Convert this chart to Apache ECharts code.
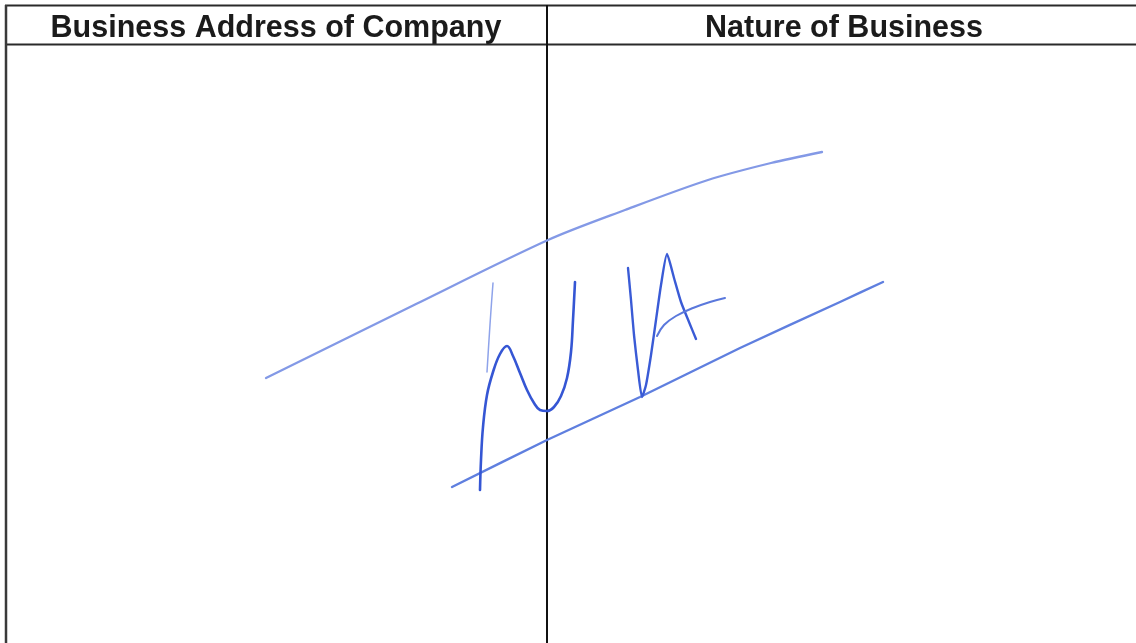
<!DOCTYPE html>
<html>
<head>
<meta charset="utf-8">
<script src="https://cdn.jsdelivr.net/npm/echarts@6/dist/echarts.min.js"></script>
<style>
html,body{margin:0;padding:0;background:#fff;overflow:hidden;}
#c{width:1136px;height:643px;}
</style>
</head>
<body>
<div id="c"></div>
<script>
// Table headers (column titles)
var headers = ['Business Address of Company', 'Nature of Business'];

// Table rules (x, y in page pixels)
var ruleTop = [[5, 5.5], [1136, 5.5]];
var ruleHeader = [[5, 44.5], [1136, 44.5]];
var ruleLeft = [[6, 5], [6, 643]];
var ruleMiddle = [[547, 5], [547, 643]];

// Handwritten strokes ("N/A" with two strike lines)
var strikeUpper = [[266, 378], [410, 307], [548, 240], [625, 210], [708, 180], [771, 163], [822, 152]];
var strikeLower = [[452, 487], [547, 440], [640, 397], [740, 348], [840, 302], [883, 282]];
var nFaint = [[493, 283], [491, 310], [489, 340], [487, 372]];
var nMain = [[480, 490], [481, 460], [483, 427], [487, 395], [493, 372], [500, 354], [507, 346], [513, 356], [520, 373], [527, 390], [534, 403], [540, 410], [547, 411], [554, 407], [561, 396], [567, 378], [571, 352], [573, 320], [575, 282]];
var aMain = [[628, 268], [631, 300], [634, 335], [638, 370], [642, 397], [646, 385], [651, 355], [656, 320], [661, 285], [667, 254], [674, 278], [681, 302], [689, 322], [696, 339]];
var aBar = [[657, 336], [664, 325], [676, 316], [693, 308], [710, 302], [725, 298]];

var chart = echarts.init(document.getElementById('c'), null, {renderer: 'canvas'});

function ruleEl(p, color, width) {
  return {
    type: 'line', silent: true, z: 2,
    shape: {x1: p[0][0], y1: p[0][1], x2: p[1][0], y2: p[1][1]},
    style: {stroke: color, lineWidth: width}
  };
}
function stroke(data, color, width, smooth) {
  return {
    type: 'line', data: data, symbol: 'none', silent: true, animation: false,
    smooth: smooth, lineStyle: {color: color, width: width, cap: 'round', join: 'round'}, z: 3
  };
}

var headFont = 'bold 30.5px "Liberation Sans", Arial, sans-serif';

chart.setOption({
  backgroundColor: '#ffffff',
  animation: false,
  grid: {left: 0, right: 0, top: 0, bottom: 0, show: false},
  xAxis: {type: 'value', min: 0, max: 1136, show: false},
  yAxis: {type: 'value', min: 0, max: 643, inverse: true, show: false},
  graphic: [
    ruleEl(ruleTop, '#2a2a2a', 2),
    ruleEl(ruleHeader, '#2a2a2a', 2),
    ruleEl(ruleLeft, '#3a3a3a', 2.5),
    ruleEl(ruleMiddle, '#111111', 2),
    {type: 'text', x: 276, y: 29, style: {text: headers[0], fill: '#1b1b1b', font: headFont, textAlign: 'center', textVerticalAlign: 'middle'}},
    {type: 'text', x: 844, y: 29, style: {text: headers[1], fill: '#1b1b1b', font: headFont, textAlign: 'center', textVerticalAlign: 'middle'}}
  ],
  series: [
    stroke(strikeUpper, '#8399e6', 2.3, 0.3),
    stroke(strikeLower, '#5f7fdf', 2.4, 0.2),
    stroke(nFaint, '#8ea3ea', 1.5, 0.4),
    stroke(nMain, '#3556d4', 2.6, 0.4),
    stroke(aMain, '#3a5bd6', 2.4, 0.2),
    stroke(aBar, '#5a78dc', 2, 0.4)
  ]
});
</script>
</body>
</html>
